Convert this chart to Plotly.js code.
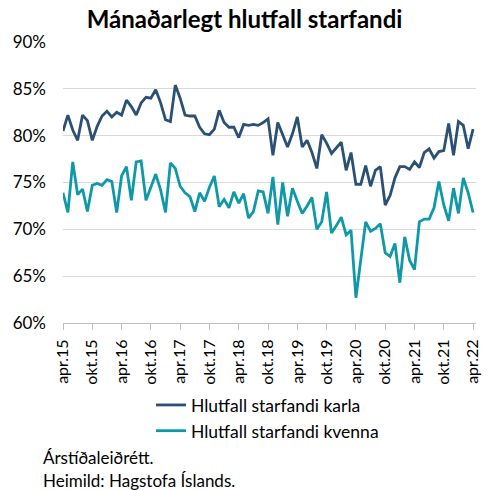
<!DOCTYPE html>
<html>
<head>
<meta charset="utf-8">
<script src="https://cdn.plot.ly/plotly-3.0.1.min.js"></script>
<style>
  html, body { margin: 0; padding: 0; background: #fff; }
  #chart { width: 489px; height: 490px; }
</style>
</head>
<body>
<div id="chart"></div>
<script>
const months = [
  "apr.15","maí.15","jún.15","júl.15","ágú.15","sep.15","okt.15","nóv.15","des.15","jan.16","feb.16","mar.16",
  "apr.16","maí.16","jún.16","júl.16","ágú.16","sep.16","okt.16","nóv.16","des.16","jan.17","feb.17","mar.17",
  "apr.17","maí.17","jún.17","júl.17","ágú.17","sep.17","okt.17","nóv.17","des.17","jan.18","feb.18","mar.18",
  "apr.18","maí.18","jún.18","júl.18","ágú.18","sep.18","okt.18","nóv.18","des.18","jan.19","feb.19","mar.19",
  "apr.19","maí.19","jún.19","júl.19","ágú.19","sep.19","okt.19","nóv.19","des.19","jan.20","feb.20","mar.20",
  "apr.20","maí.20","jún.20","júl.20","ágú.20","sep.20","okt.20","nóv.20","des.20","jan.21","feb.21","mar.21",
  "apr.21","maí.21","jún.21","júl.21","ágú.21","sep.21","okt.21","nóv.21","des.21","jan.22","feb.22","mar.22",
  "apr.22"
];

const tickLabels = ["apr.15","okt.15","apr.16","okt.16","apr.17","okt.17","apr.18","okt.18",
  "apr.19","okt.19","apr.20","okt.20","apr.21","okt.21","apr.22"];

const karla = [
  80.5, 82.2, 80.6, 79.5, 82.2, 81.6, 79.5, 81.0, 82.1, 82.6, 82.0, 82.5,
  82.2, 83.8, 83.1, 82.2, 83.5, 84.1, 84.0, 84.9, 83.5, 81.7, 81.5, 85.4,
  84.0, 82.2, 82.1, 82.1, 80.9, 80.2, 80.1, 80.7, 82.7, 81.4, 80.9, 80.9,
  79.8, 81.2, 81.1, 81.2, 81.1, 81.4, 81.8, 77.9, 81.4, 80.0, 78.8, 80.2,
  82.0, 78.8, 79.5, 78.2, 76.5, 80.1, 79.2, 78.1, 78.7, 79.3, 76.3, 78.2,
  74.8, 74.8, 76.8, 74.6, 76.3, 76.7, 72.6, 73.6, 75.5, 76.7, 76.7, 76.4,
  77.2, 76.6, 78.2, 78.6, 77.6, 78.3, 78.4, 81.3, 77.9, 81.5, 81.1, 78.6,
  80.7
];

const kvenna = [
  73.9, 71.8, 77.2, 73.7, 74.3, 71.9, 74.7, 74.9, 74.7, 75.3, 75.1, 71.8,
  75.7, 76.7, 73.1, 77.2, 77.3, 73.1, 74.5, 75.9, 74.2, 71.8, 77.1, 76.5,
  74.6, 73.9, 73.5, 71.9, 73.9, 73.0, 74.5, 75.7, 72.4, 73.2, 72.3, 74.0,
  72.8, 73.8, 71.2, 71.9, 74.1, 74.0, 71.7, 75.6, 70.5, 75.0, 71.4, 74.4,
  73.0, 71.7, 72.5, 73.4, 70.0, 70.8, 74.0, 69.6, 70.4, 71.3, 69.4, 69.9,
  62.7, 67.0, 70.8, 69.8, 70.1, 70.6, 67.5, 67.1, 68.5, 64.3, 69.2, 66.7,
  65.7, 70.8, 71.1, 71.1, 72.3, 75.1, 72.6, 70.9, 74.4, 71.7, 75.5, 73.9,
  71.8
];

const seriesNames = ["Hlutfall starfandi karla", "Hlutfall starfandi kvenna"];
const yTickVals = [60, 65, 70, 75, 80, 85, 90];
const yTickText = ["60%", "65%", "70%", "75%", "80%", "85%", "90%"];

const FONT = "Lato, 'Open Sans', sans-serif";

const traces = [
  { x: months, y: karla, name: seriesNames[0], type: "scatter", mode: "lines",
    line: { color: "#2B5075", width: 2.8 } },
  { x: months, y: kvenna, name: seriesNames[1], type: "scatter", mode: "lines",
    line: { color: "#0F98A8", width: 2.8 } }
];

const layout = {
  width: 489, height: 490,
  margin: { l: 63, r: 13, t: 42, b: 167 },
  paper_bgcolor: "#ffffff",
  plot_bgcolor: "#ffffff",
  font: { family: FONT, size: 17, color: "#000000" },
  title: { text: "<b>Mánaðarlegt hlutfall starfandi</b>", x: 0.5, xanchor: "center",
           yref: "container", y: 0.961, yanchor: "middle",
           font: { family: FONT, size: 24, color: "#000" } },
  showlegend: true,
  legend: { orientation: "v", x: 0.213, xanchor: "left", y: -0.228, yanchor: "top",
            font: { family: FONT, size: 17.5, color: "#000" }, tracegroupgap: 0,
            bgcolor: "rgba(0,0,0,0)" },
  xaxis: {
    type: "category",
    range: [0, 84.6],
    tickmode: "array",
    tickvals: tickLabels,
    ticktext: tickLabels,
    tickangle: -90,
    ticks: "outside", ticklen: 6, tickcolor: "#bfbfbf", tickwidth: 1,
    ticklabelstandoff: 3,
    showgrid: false,
    showline: true, linecolor: "#bfbfbf", linewidth: 1,
    zeroline: false,
    tickfont: { family: FONT, size: 16, color: "#000" },
    fixedrange: true
  },
  yaxis: {
    range: [60, 90],
    tickmode: "array",
    tickvals: yTickVals,
    ticktext: yTickText,
    showgrid: true, gridcolor: "#d9d9d9", gridwidth: 1,
    showline: false, zeroline: false,
    ticks: "", ticklabelstandoff: 16,
    tickfont: { family: FONT, size: 17, color: "#000" },
    fixedrange: true
  },
  annotations: [
    { text: "Árstíðaleiðrétt.", xref: "paper", yref: "paper", x: -0.053, y: -0.48,
      xanchor: "left", yanchor: "middle", showarrow: false,
      font: { family: FONT, size: 17, color: "#000" } },
    { text: "Heimild: Hagstofa Íslands.", xref: "paper", yref: "paper", x: -0.053, y: -0.561,
      xanchor: "left", yanchor: "middle", showarrow: false,
      font: { family: FONT, size: 17, color: "#000" } }
  ]
};

Plotly.newPlot("chart", traces, layout, { displayModeBar: false, staticPlot: true });
</script>
</body>
</html>
